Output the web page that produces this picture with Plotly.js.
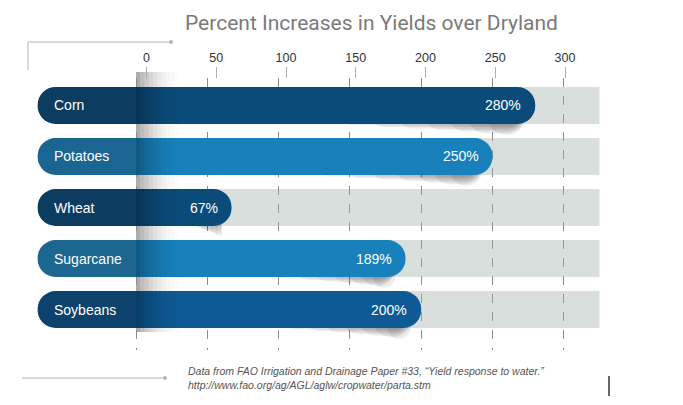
<!DOCTYPE html>
<html><head><meta charset="utf-8">
<script src="https://cdn.plot.ly/plotly-3.0.1.min.js"></script>
<style>html,body{margin:0;padding:0;background:#fff}#chart{width:683px;height:405px}</style>
</head><body><div id="chart"></div>
<script>
// ---- data ----
const categories = ['Corn', 'Potatoes', 'Wheat', 'Sugarcane', 'Soybeans'];
const values = [280, 250, 67, 189, 200];
const valueLabels = ['280%', '250%', '67%', '189%', '200%'];
const tickValues = [0, 50, 100, 150, 200, 250, 300];
const tickLabels = ['0', '50', '100', '150', '200', '250', '300'];
const titleText = 'Percent Increases in Yields over Dryland';
const sourceLines = ['Data from FAO Irrigation and Drainage Paper #33, \u201cYield response to water.\u201d',
                     'http://www.fao.org/ag/AGL/aglw/cropwater/parta.stm'];

// ---- styling ----
const mainColors  = ['#0b4b79', '#1880bb', '#0b4b79', '#1880bb', '#0e5a94'];
const labelColors = ['#0c3c60', '#1b6593', '#0c3c60', '#1c6690', '#0d426c'];
const trackMax = 325;
const labelStart = -69;
const W = 683, H = 405, M = {l: 30, r: 73, t: 78, b: 55};
const plotW = W - M.l - M.r, plotH = H - M.t - M.b;
const px = x => (x - M.l) / plotW;
const py = y => (H - M.b - y) / plotH;
const barW = 0.725;
const radius = 18;
const hbar = (x, base, color, extra) => Object.assign({type: 'bar', orientation: 'h', y: categories, x: x, base: base,
  width: barW, marker: {color: color, line: {width: 0}}, hoverinfo: 'skip'}, extra || {});

const traces = [];
// grey tracks
traces.push(hbar(categories.map(() => trackMax), 0, 'rgba(160,175,170,0.4)'));
// soft drop shadows (several faint layers)
[[0.03, 0.50], [0.06, 0.58], [0.09, 0.65], [0.12, 0.72], [0.15, 0.78], [0.18, 0.83], [0.21, 0.88]].forEach(([d, f]) => {
  const t = hbar(values.map(v => v * (1 - f) - 7), values.map(v => v * f), 'rgba(0,0,0,0.07)',
    {offset: -barW / 2 + d});
  t.marker.cornerradius = radius;
  traces.push(t);
});
// label (left) section
const lab = hbar(categories.map(() => labelStart), 0, labelColors);
lab.marker.cornerradius = radius;
traces.push(lab);
// value bars
const main = hbar(values, 0, mainColors);
main.marker.cornerradius = radius;
traces.push(main);
// square fillers at the joint
traces.push(hbar(categories.map(() => -20), 0, labelColors));
traces.push(hbar(categories.map(() => 20), 0, mainColors));
// fold shading at zero
[[0, 3, 0.30], [3, 6, 0.24], [6, 9, 0.19], [9, 12, 0.15], [12, 15, 0.11], [15, 18, 0.08], [18, 21, 0.055], [21, 24, 0.035], [24, 28, 0.018]].forEach(([s, e, a]) => {
  traces.push(hbar(categories.map(() => e - s), s, 'rgba(0,0,0,' + a + ')'));
});
// invisible trace for top axis
traces.push({type: 'scatter', mode: 'markers', x: tickValues, y: tickValues.map(() => categories[0]),
  xaxis: 'x2', yaxis: 'y', marker: {opacity: 0}, hoverinfo: 'skip', showlegend: false});

const shapes = [];
[[0, 3, 0.32], [3, 6, 0.26], [6, 9, 0.21], [9, 12, 0.16], [12, 15, 0.12], [15, 18, 0.085], [18, 21, 0.06], [21, 24, 0.04], [24, 27, 0.022], [27, 30, 0.01]].forEach(([s, e, a]) => {
  shapes.push({type: 'rect', xref: 'x', yref: 'paper', x0: s, x1: e, y0: py(332), y1: py(72),
    fillcolor: 'rgba(0,0,0,' + a + ')', line: {width: 0}, layer: 'below'});
});
// title bracket
shapes.push({type: 'line', xref: 'paper', yref: 'paper', x0: px(28), x1: px(170), y0: py(42), y1: py(42), line: {color: '#b5b5b5', width: 1}});
shapes.push({type: 'line', xref: 'paper', yref: 'paper', x0: px(28), x1: px(28), y0: py(42), y1: py(70), line: {color: '#b5b5b5', width: 1}});
shapes.push({type: 'circle', xref: 'paper', yref: 'paper', x0: px(169), x1: px(173), y0: py(40), y1: py(44), fillcolor: '#b5b5b5', line: {width: 0}});
// source bracket
shapes.push({type: 'line', xref: 'paper', yref: 'paper', x0: px(22), x1: px(164), y0: py(378), y1: py(378), line: {color: '#b5b5b5', width: 1}});
shapes.push({type: 'circle', xref: 'paper', yref: 'paper', x0: px(163), x1: px(167), y0: py(376), y1: py(380), fillcolor: '#b5b5b5', line: {width: 0}});
// cursor mark
shapes.push({type: 'line', xref: 'paper', yref: 'paper', x0: px(609), x1: px(609), y0: py(376), y1: py(396), line: {color: '#000', width: 1.2}});

const annotations = [];
categories.forEach((c, i) => {
  annotations.push({x: labelStart, y: c, xref: 'x', yref: 'y', xanchor: 'left', xshift: 14, showarrow: false,
    text: c, font: {family: 'Liberation Sans, Arial, sans-serif', size: 14, color: '#ffffff'}});
  annotations.push({x: values[i], y: c, xref: 'x', yref: 'y', xanchor: 'right', xshift: -12, showarrow: false,
    text: valueLabels[i], font: {family: 'Liberation Sans, Arial, sans-serif', size: 14, color: '#ffffff'}});
});
annotations.push({x: px(371), y: py(23), xref: 'paper', yref: 'paper', xanchor: 'center', yanchor: 'middle',
  showarrow: false, text: titleText, font: {family: 'Roboto, sans-serif', size: 21, color: '#7a7a7a'}});
annotations.push({x: px(186), y: py(378), xref: 'paper', yref: 'paper', xanchor: 'left', yanchor: 'middle', align: 'left',
  showarrow: false, text: '<i>' + sourceLines.join('<br>') + '</i>',
  font: {family: 'Liberation Sans, Arial, sans-serif', size: 10.5, color: '#555555'}});

const layout = {
  width: W, height: H, margin: M, paper_bgcolor: '#ffffff', plot_bgcolor: '#ffffff',
  barmode: 'overlay', showlegend: false,
  xaxis: {range: [(M.l - 136) / 1.426, (W - M.r - 136) / 1.426], tickvals: tickValues, showticklabels: false,
    showgrid: true, griddash: 'dash', gridcolor: '#8c8c8c', gridwidth: 1, zeroline: false, showline: false, ticks: '', fixedrange: true},
  xaxis2: {overlaying: 'x', side: 'top', anchor: 'free', position: 1,
    range: [(M.l - 146.5) / 1.395, (W - M.r - 146.5) / 1.395], tickvals: tickValues, ticktext: tickLabels,
    ticks: 'outside', ticklen: 11, tickcolor: '#b0b0b0', tickwidth: 1, showgrid: false, zeroline: false, showline: false,
    tickfont: {family: 'Liberation Sans, Arial, sans-serif', size: 12.5, color: '#333333'}},
  yaxis: {type: 'category', range: [4.794, -0.539], showticklabels: false, showgrid: false, zeroline: false, showline: false, ticks: ''},
  shapes: shapes, annotations: annotations
};
Plotly.newPlot('chart', traces, layout, {staticPlot: true, displayModeBar: false});
</script>
</body></html>
